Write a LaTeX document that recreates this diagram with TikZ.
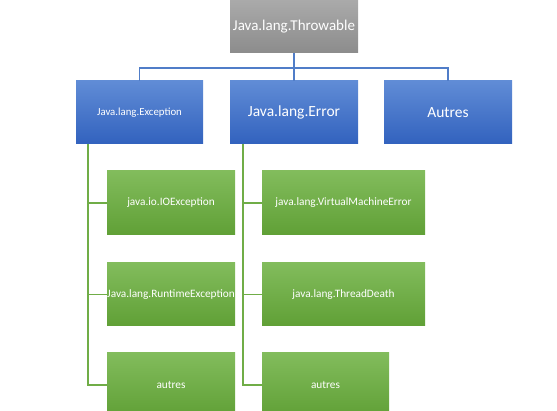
\documentclass[tikz,border=0pt]{standalone}
\usepackage{fontspec}
\setmainfont{Carlito}
\definecolor{bluetop}{RGB}{96,140,214}
\definecolor{bluebot}{RGB}{50,98,190}
\definecolor{greentop}{RGB}{130,188,92}
\definecolor{greenbot}{RGB}{96,160,54}
\definecolor{graytop}{RGB}{170,170,170}
\definecolor{graybot}{RGB}{140,140,140}
\definecolor{blueline}{RGB}{80,125,200}
\definecolor{greenline}{RGB}{112,173,71}
\begin{document}
\begin{tikzpicture}[x=1pt,y=-1pt,
  box/.style={rectangle,inner sep=0pt,text=white,align=center},
  bluebox/.style={box,top color=bluetop,bottom color=bluebot,minimum width=128pt,minimum height=63pt},
  greenbox/.style={box,top color=greentop,bottom color=greenbot,minimum width=128pt,minimum height=64pt,font=\fontsize{11.3}{13}\selectfont},
  graybox/.style={box,top color=graytop,bottom color=graybot,minimum width=128pt,minimum height=53pt,font=\fontsize{15}{18}\selectfont},
  bline/.style={draw=blueline,line width=1.2pt},
  gline/.style={draw=greenline,line width=1.2pt}]
\useasboundingbox (0,0) rectangle (557,411);
\node[graybox] (top) at (294,26.5) {Java.lang.Throwable};
\node[bluebox,minimum width=127pt,font=\fontsize{10.8}{13}\selectfont] (exc) at (139.5,112.5) {Java.lang.Exception};
\node[bluebox,font=\fontsize{15.5}{18}\selectfont] (err) at (294,112.5) {Java.lang.Error};
\node[bluebox,font=\fontsize{15.5}{18}\selectfont] (aut) at (448,112.5) {Autres};
\node[greenbox] (g1) at (171,203) {java.io.IOException};
\node[greenbox,minimum height=63pt] (g2) at (171,294.5) {Java.lang.RuntimeException};
\node[greenbox] (g3) at (171,385) {autres};
\node[greenbox,minimum width=163pt] (h1) at (343.5,203) {java.lang.VirtualMachineError};
\node[greenbox,minimum width=163pt,minimum height=63pt] (h2) at (343.5,294.5) {java.lang.ThreadDeath};
\node[greenbox,minimum width=127pt] (h3) at (325.5,385) {autres};
% blue connectors
\coordinate (bus) at (294,68);
\draw[bline] (top.south) -- (err.north);
\draw[bline] (exc.north) |- (bus) -| (aut.north);
% green connectors left
\coordinate (lt) at (88,144);
\draw[gline] (lt) |- (g3.west);
\draw[gline] (lt |- g1.west) -- (g1.west);
\draw[gline] (lt |- g2.west) -- (g2.west);
% green connectors right
\coordinate (rt) at (243,144);
\draw[gline] (rt) |- (h3.west);
\draw[gline] (rt |- h1.west) -- (h1.west);
\draw[gline] (rt |- h2.west) -- (h2.west);
\end{tikzpicture}
\end{document}
